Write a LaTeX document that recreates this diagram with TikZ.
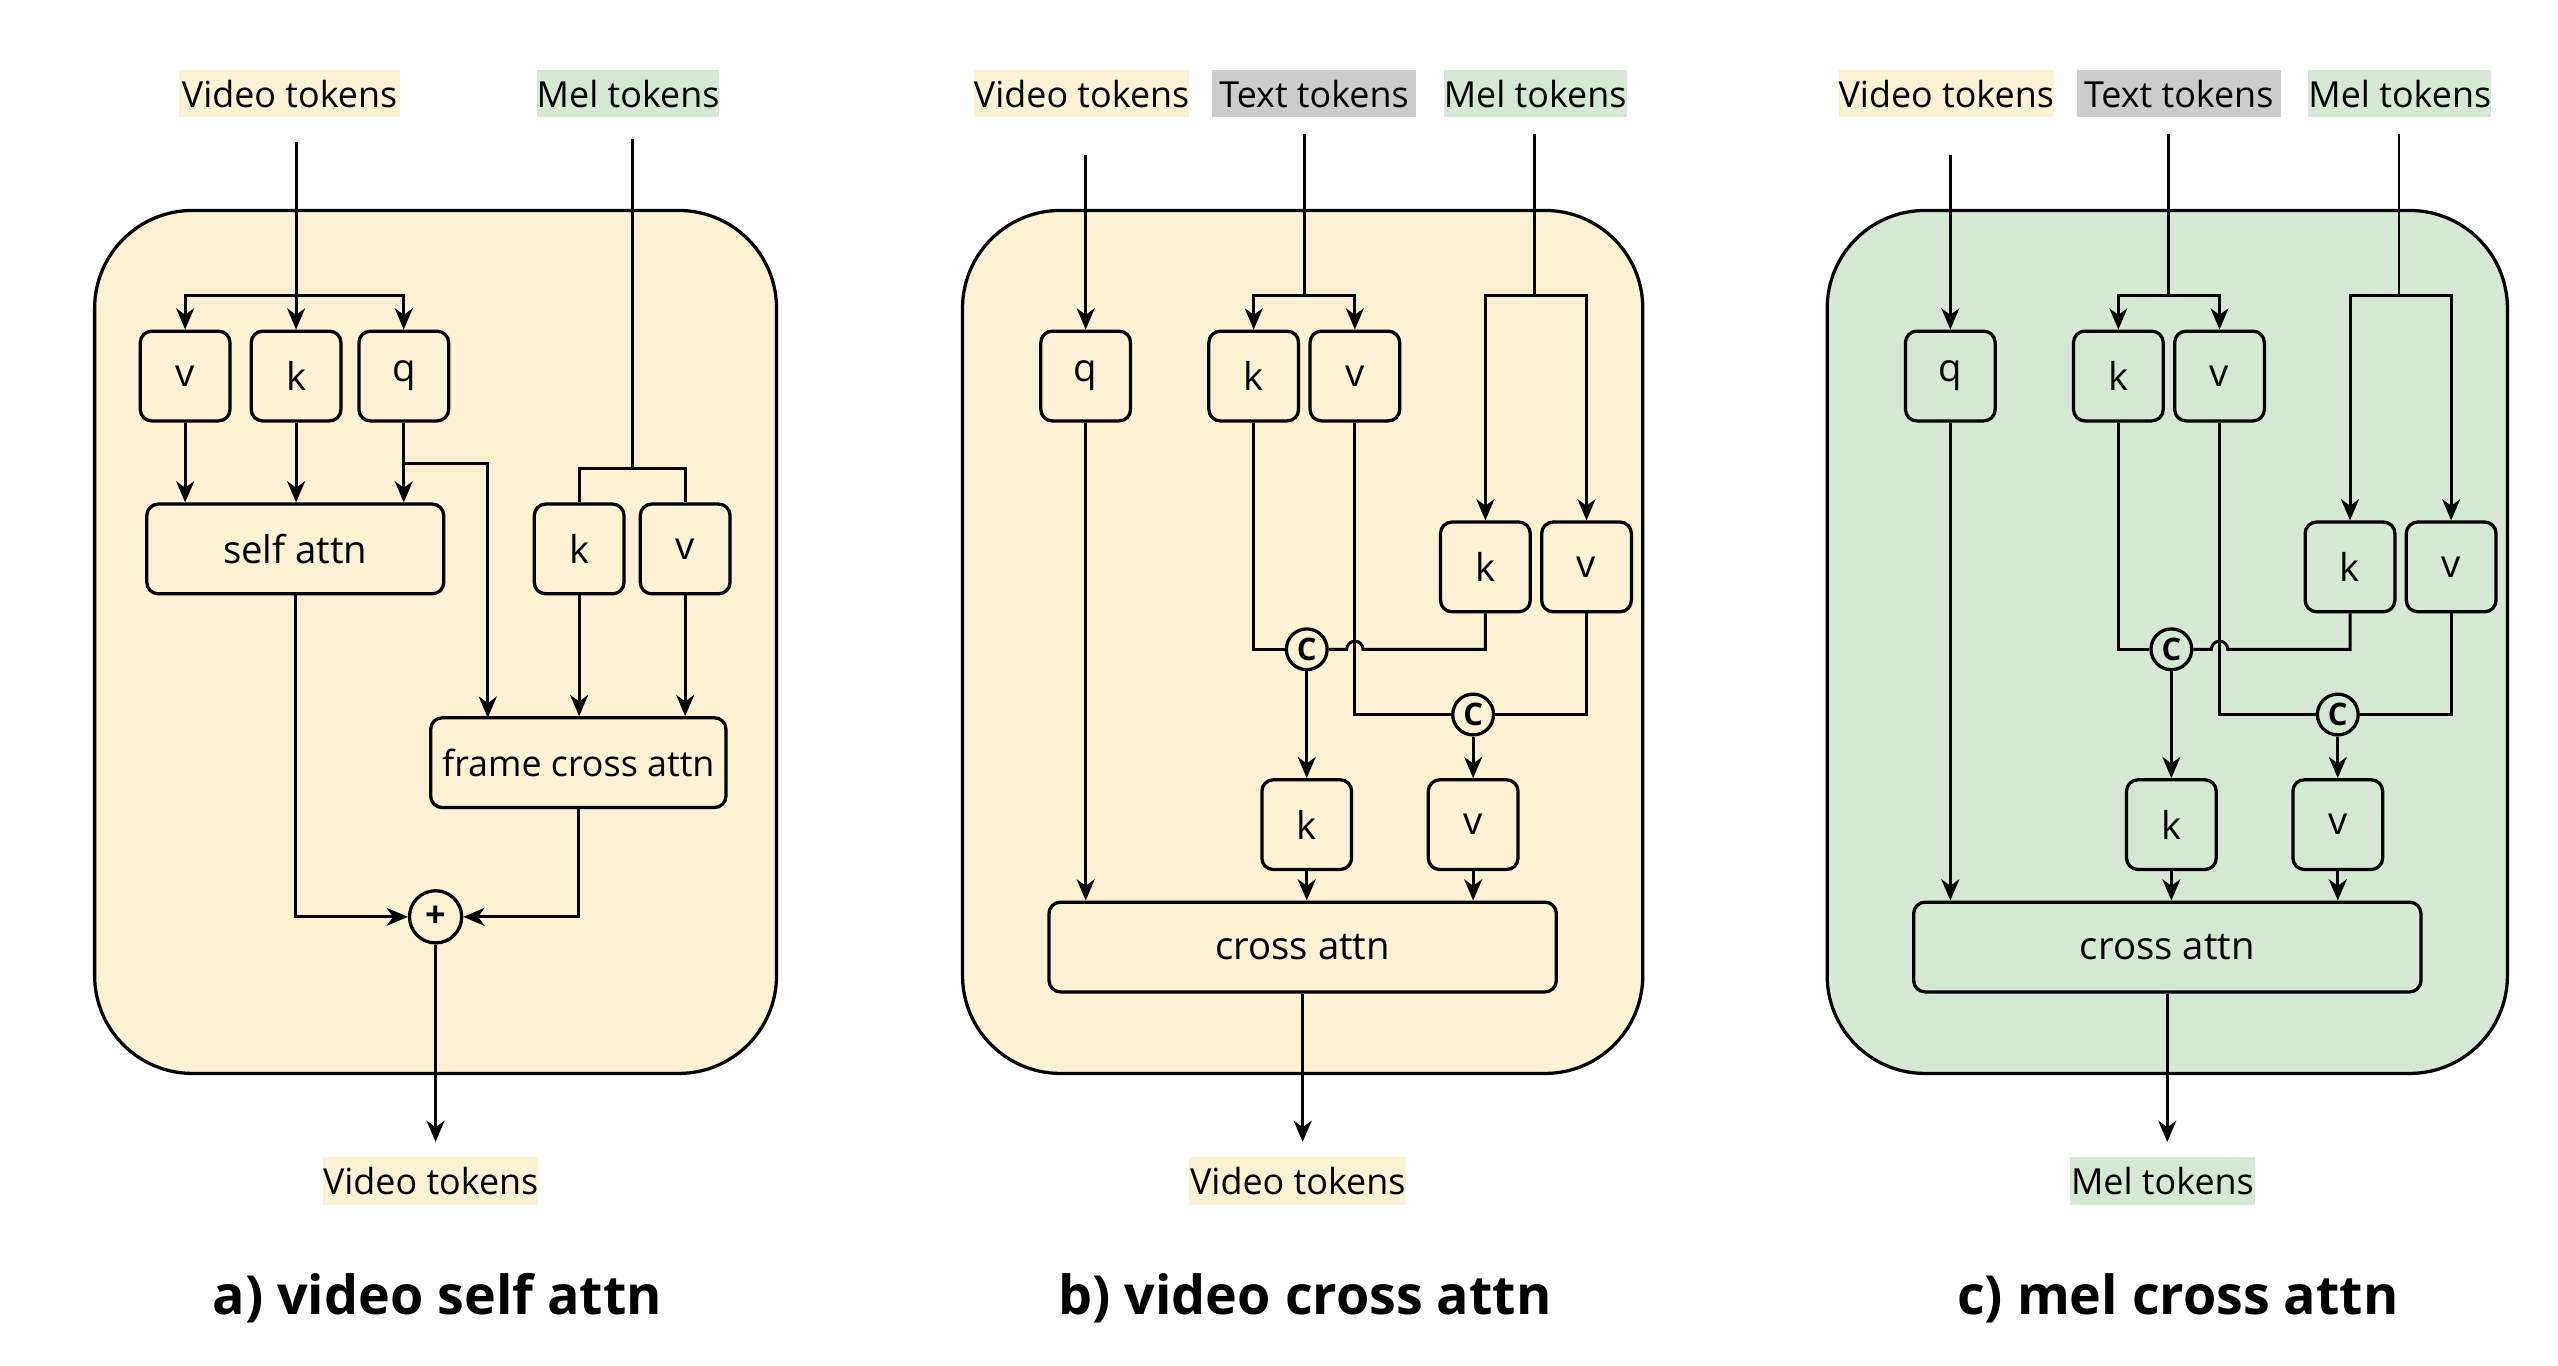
\documentclass[tikz,border=0pt]{standalone}
\usepackage{fontspec}
\setmainfont{Open Sans}
\usetikzlibrary{arrows.meta}
\definecolor{yel}{HTML}{FBF2D3}
\definecolor{grn}{HTML}{D5E8D4}
\definecolor{gry}{HTML}{CCCCCC}
\tikzset{
  line/.style={line width=1.8pt},
  arr/.style={line width=1.8pt, -{Stealth[length=13pt,width=11pt,inset=4pt]}},
  panel/.style={draw, line width=2pt, rounded corners=60pt, inner sep=0pt},
  sbox/.style={draw, line width=2pt, rounded corners=7pt, minimum width=55pt, minimum height=55pt, inner sep=0pt, font=\fontsize{23.5}{27}\selectfont},
  lbl/.style={inner sep=0pt, minimum height=29pt, font=\fontsize{22}{26}\selectfont},
  captxt/.style={font=\fontsize{33}{38}\selectfont\bfseries},
  cc/.style={draw, circle, line width=2pt, minimum size=25pt, inner sep=0pt, font=\fontsize{19}{21}\selectfont\bfseries},
}
\newcommand\xpanel[6]{%
\begin{scope}[xshift=#2]
\node[panel, fill=#3, minimum width=417pt, minimum height=529pt] (#1panel) at (798.5,393.5) {};
\node[lbl, fill=yel, minimum width=132pt] (#1lv) at (663,57.5) {Video tokens};
\node[lbl, fill=gry, minimum width=125pt] (#1lt) at (805.5,57.5) {Text tokens};
\node[lbl, fill=grn, minimum width=112pt] (#1lm) at (941,57.5) {Mel tokens};
\coordinate (#1sv) at (665.5,95);
\coordinate (#1st) at (799.5,82);
\coordinate (#1sm) at (940.5,82);
\node[sbox, fill=#3] (#1q) at (665.5,230.5) {q};
\node[sbox, fill=#3] (#1k) at (768.5,230.5) {k};
\node[sbox, fill=#3] (#1v) at (830.5,230.5) {v};
\node[sbox, fill=#3] (#1mk) at (910.5,347.5) {k};
\node[sbox, fill=#3] (#1mv) at (972.5,347.5) {v};
\node[cc, fill=#3] (#1c1) at (801,398) {C};
\node[cc, fill=#3] (#1c2) at (903,438) {C};
\node[sbox, fill=#3] (#1ok) at (801,505.5) {k};
\node[sbox, fill=#3] (#1ov) at (903,505.5) {v};
\node[sbox, fill=#3, minimum width=311pt] (#1x) at (798.5,580.5) {cross attn};
\coordinate (#1e) at (798.5,700);
\node[lbl, fill=#4, minimum width=#6] (#1lo) at (795.5,724) {#5};
\coordinate (#1ts) at (799.5,181);
\coordinate (#1ms) at (940.5,181);
\draw[arr] (#1sv) -- (#1q.north);
\draw[line] (#1st) -- (#1ts);
\draw[arr] (#1ts) -| (#1k.north);
\draw[arr] (#1ts) -| (#1v.north);
\draw[line] (#1sm) -- (#1ms);
\draw[arr] (#1ms) -| (#1mk.north);
\draw[arr] (#1ms) -| (#1mv.north);
\draw[line] (#1k.south) |- (#1c1.west);
\draw[line] (#1mk.south) |- (835.5,398) arc[start angle=0, end angle=180, radius=5pt] -- (#1c1.east);
\draw[line] (#1v.south) |- (#1c2.west);
\draw[line] (#1mv.south) |- (#1c2.east);
\draw[arr] (#1c1.south) -- (#1ok.north);
\draw[arr] (#1c2.south) -- (#1ov.north);
\draw[arr] (#1ok.south) -- (#1ok.south |- #1x.north);
\draw[arr] (#1ov.south) -- (#1ov.south |- #1x.north);
\draw[arr] (#1q.south) -- (#1q.south |- #1x.north);
\draw[arr] (#1x.south) -- (#1e);
\end{scope}}
\begin{document}
\begin{tikzpicture}[x=1pt, y=-1pt]
\useasboundingbox (0,0) rectangle (1568,837);
% ---------- panel a ----------
\node[panel, fill=yel, minimum width=418pt, minimum height=529pt] (apanel) at (267,393.5) {};
\node[lbl, fill=yel, minimum width=135pt] (alv) at (177.5,57.5) {Video tokens};
\node[lbl, fill=grn, minimum width=112pt] (alm) at (385,57.5) {Mel tokens};
\coordinate (asv) at (181.5,87);
\coordinate (asm) at (387.5,85);
\node[sbox, fill=yel] (av) at (113.5,230.5) {v};
\node[sbox, fill=yel] (ak) at (181.5,230.5) {k};
\node[sbox, fill=yel] (aq) at (247.5,230.5) {q};
\node[sbox, fill=yel, minimum width=182pt] (aself) at (181,336.5) {self attn};
\node[sbox, fill=yel] (amk) at (355,336.5) {k};
\node[sbox, fill=yel] (amv) at (420,336.5) {v};
\node[sbox, fill=yel, minimum width=181pt, font=\fontsize{22}{26}\selectfont] (aframe) at (354.5,467.5) {frame cross attn};
\node[draw, circle, line width=2pt, fill=yel, minimum size=32pt, inner sep=0pt, font=\fontsize{22}{24}\selectfont\bfseries] (aplus) at (267,562) {+};
\coordinate (ae) at (267,700);
\node[lbl, fill=yel, minimum width=132pt] (alo) at (264,724) {Video tokens};
\coordinate (avs) at (181.5,181);
\coordinate (ams) at (387.5,287);
\coordinate (aqb) at (247.5,284);
\draw[arr] (asv) -- (ak.north);
\draw[arr] (avs) -| (av.north);
\draw[arr] (avs) -| (aq.north);
\draw[arr] (av.south) -- (av.south |- aself.north);
\draw[arr] (ak.south) -- (ak.south |- aself.north);
\draw[arr] (aq.south) -- (aq.south |- aself.north);
\draw[arr] (aqb) -| (299,440);
\draw[line] (asm) -- (ams);
\draw[line] (ams) -| (amk.north);
\draw[line] (ams) -| (amv.north);
\draw[arr] (amk.south) -- (amk.south |- aframe.north);
\draw[arr] (amv.south) -- (amv.south |- aframe.north);
\draw[arr] (aself.south) |- (aplus.west);
\draw[arr] (aframe.south) |- (aplus.east);
\draw[arr] (aplus.south) -- (ae);
\node[captxt] (acap) at (268,796) {a) video self attn};
% ---------- panels b, c ----------
\xpanel{b}{0pt}{yel}{yel}{Video tokens}{133pt}
\xpanel{c}{530pt}{grn}{grn}{Mel tokens}{113pt}
\node[captxt] (bcap) at (800,796) {b) video cross attn};
\node[captxt] (ccap) at (1335,796) {c) mel cross attn};
\end{tikzpicture}
\end{document}
